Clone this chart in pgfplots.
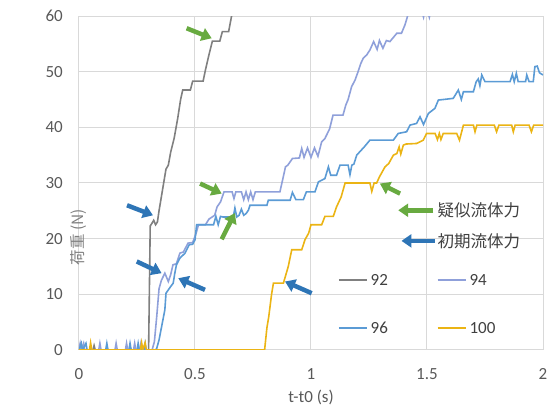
\documentclass[border=0pt]{standalone}
\usepackage{pgfplots}
\pgfplotsset{compat=1.18}
\usepackage{fontspec}
\setmainfont{Carlito}
\newfontfamily\jp{Noto Sans CJK JP}
\usetikzlibrary{arrows.meta}
\definecolor{c92}{RGB}{128,128,128}
\definecolor{c94}{RGB}{143,160,218}
\definecolor{c96}{RGB}{91,155,213}
\definecolor{c100}{RGB}{235,180,20}
\definecolor{cgreen}{RGB}{104,170,64}
\definecolor{cblue}{RGB}{46,117,182}
\definecolor{gridc}{RGB}{217,217,217}
\definecolor{tickc}{RGB}{89,89,89}
\definecolor{textc}{RGB}{64,64,64}
\begin{document}
\begin{tikzpicture}
\path[use as bounding box] (-79pt,-59pt) rectangle (476pt,350pt);
\begin{axis}[
  at={(0,0)}, anchor=south west,
  scale only axis, width=464pt, height=334pt,
  xmin=0, xmax=2, ymin=0, ymax=60,
  xtick={0,0.5,1,1.5,2}, ytick={0,10,20,30,40,50,60},
  grid=major, major grid style={draw=gridc, line width=1pt},
  axis line style={draw=gridc, line width=1pt},
  major tick length=0pt,
  /pgf/number format/assume math mode=true,
  ticklabel style={font=\fontsize{17}{19}\selectfont, text=tickc},
  xticklabel style={anchor=center, yshift=-24pt},
  yticklabel style={anchor=east, inner sep=0pt, xshift=-16pt},
  xlabel={t-t0 (s)},
  xlabel style={font=\fontsize{17}{19}\selectfont, text=tickc, at={(axis description cs:0.5,0)}, anchor=center, yshift=-47pt},
  ylabel={\jp 荷重 (N)},
  ylabel style={font=\fontsize{15.5}{18}\selectfont, text=gray, at={(axis description cs:0,0.5)}, anchor=center, xshift=-54pt},
  legend columns=2,
  legend cell align=left,
  legend image code/.code={\draw[#1] (0pt,0pt) -- (28pt,0pt);},
  legend style={draw=none, fill=none, inner sep=0pt,
    at={(axis cs:1.116,8.28)}, anchor=west,
    font=\fontsize{17}{19}\selectfont, text=textc,
    nodes={inner sep=1pt, text height=12pt, text depth=0pt},
    column sep=2pt, row sep=34pt,
    /tikz/every even column/.append style={column sep=48pt}},
]
\addplot[c92, line width=1.6pt] coordinates {
(0,0)(0.06,0)(0.065,0.8)(0.07,0)(0.30,0)(0.307,22.3)(0.315,22.8)(0.322,23.3)(0.33,22.5)(0.338,23)
(0.345,25)(0.355,27.5)(0.365,30)(0.375,32.5)(0.385,33.2)(0.395,35.5)(0.41,38)(0.425,41.5)
(0.438,45)(0.447,46.7)(0.48,46.7)(0.49,48.3)(0.535,48.3)(0.545,50.3)(0.56,53)(0.575,55.5)
(0.607,55.5)(0.618,57.2)(0.645,57.2)(0.66,60.5)(0.68,64)};
\addlegendentry{92}
\addplot[c94, line width=1.6pt] coordinates {
(0,0.3)(0.005,1.2)(0.01,0)(0.02,1.2)(0.025,0)(0.085,0)(0.09,1.2)(0.095,0)(0.155,0)(0.16,1.2)(0.165,0)
(0.2,0)(0.205,1.2)(0.21,0)(0.235,0)(0.24,1.2)(0.245,0)(0.262,0)(0.267,1.2)(0.272,0)(0.315,0)
(0.325,1.5)(0.335,6)(0.345,11)(0.355,12.5)(0.37,13.8)(0.385,12.3)(0.395,13.5)(0.405,15.3)(0.42,15.5)
(0.435,17.4)(0.45,17.6)(0.47,19.2)(0.49,19.3)(0.505,21)(0.515,22.5)(0.545,22.5)(0.56,23.5)(0.585,24.2)
(0.595,25.7)(0.61,26.6)(0.625,28.4)(0.66,28.4)(0.668,27.2)(0.676,28.4)(0.70,28.4)(0.71,27)(0.72,28.4)
(0.73,27)(0.74,28.4)(0.75,27)(0.76,28.4)(0.866,28.4)(0.88,31)(0.89,32.9)(0.90,33.2)(0.92,34.4)
(0.95,34.5)(0.96,36.2)(0.97,34.6)(0.985,36.3)(1.0,34.6)(1.015,36.3)(1.03,34.8)(1.046,37.4)(1.06,38)
(1.08,39.7)(1.095,42.2)(1.138,42.2)(1.15,44)(1.16,45)(1.175,47.3)(1.19,48.5)(1.203,50)(1.215,51.5)
(1.225,52.4)(1.24,53)(1.254,53.9)(1.27,55.4)(1.285,54)(1.295,55.6)(1.31,54.2)(1.325,55.6)(1.34,55.4)
(1.37,56.9)(1.39,56.9)(1.405,58.4)(1.42,60.5)(1.47,62)(1.485,59.8)(1.495,62)(1.51,59.8)(1.52,62)(1.6,64)};
\addlegendentry{94}
\addplot[c96, line width=1.6pt] coordinates {
(0,0)(0.01,1.2)(0.015,0)(0.03,1.2)(0.035,0)(0.115,0)(0.12,1.2)(0.125,0)(0.215,0)(0.22,1.2)(0.225,0)
(0.25,0)(0.255,1.2)(0.26,0)(0.28,0)(0.285,1.2)(0.29,0)(0.33,0)
(0.335,0.3)(0.345,1.8)(0.37,7.2)(0.375,10.2)(0.39,11.1)(0.406,12)(0.413,13.8)(0.42,15.3)(0.435,16.5)
(0.457,17.4)(0.475,18.9)(0.49,19)(0.50,19.8)(0.507,22.5)(0.58,22.5)(0.59,24)(0.60,22.5)(0.61,24)
(0.62,23.9)(0.665,23.9)(0.672,25.5)(0.68,23.9)(0.69,24.2)(0.70,25.3)(0.71,24.2)(0.72,24.5)(0.73,25.1)
(0.737,26)(0.81,26)(0.816,26.9)(0.91,26.9)(0.92,28.3)(0.935,27)(0.967,27)(0.98,28.4)(1.017,28.4)
(1.032,30.2)(1.06,30.8)(1.075,32.9)(1.085,31.4)(1.11,31.4)(1.125,33.2)(1.16,33.2)(1.168,31.5)
(1.176,33.2)(1.185,33.4)(1.197,35)(1.21,35.6)(1.23,36.5)(1.254,37.7)(1.355,37.7)(1.376,38.9)
(1.412,39.2)(1.427,40.4)(1.455,40.7)(1.47,41.9)(1.485,40.5)(1.506,42.5)(1.534,43.4)(1.549,44.9)
(1.613,45.2)(1.635,46.7)(1.648,45)(1.657,46.4)(1.70,46.4)(1.712,48.2)(1.721,48.7)(1.728,47.5)
(1.736,49.4)(1.75,48.2)(1.858,48.2)(1.868,49.5)(1.876,48.2)(1.885,49.7)(1.893,48.2)(1.925,48.2)
(1.93,49.4)(1.94,48.2)(1.958,48.2)(1.965,50.9)(1.975,51)(1.985,49.8)(2.0,49.4)};
\addlegendentry{96}
\addplot[c100, line width=1.6pt] coordinates {
(0,0)(0.045,0)(0.05,1.3)(0.055,0)(0.265,0)(0.27,1.3)(0.275,0)(0.285,1.3)(0.29,0)(0.80,0)
(0.81,4)(0.818,6)(0.83,10)(0.838,12)(0.881,12)(0.895,14)(0.902,15)(0.917,18)(0.96,18)(0.974,19.8)
(0.99,21)(1.0,22.5)(1.046,22.5)(1.06,24)(1.096,24)(1.11,25.7)(1.13,27.5)(1.147,30)(1.254,30)
(1.262,28.5)(1.272,30)(1.283,30)(1.295,31.1)(1.319,32.9)(1.335,33.5)(1.355,35)(1.37,35.3)(1.38,36.5)
(1.387,35.2)(1.398,36.8)(1.41,37)(1.455,37.1)(1.47,37.4)(1.484,37.7)(1.498,38.9)(1.535,38.9)
(1.545,37.8)(1.553,38.9)(1.56,37.8)(1.57,38.9)(1.628,38.9)(1.64,37.7)(1.657,40.4)(1.70,40.4)
(1.707,39.2)(1.715,40.4)(1.79,40.4)(1.80,39.2)(1.81,40.4)(1.865,40.4)(1.872,39.2)(1.88,40.4)
(1.94,40.4)(1.95,39.2)(1.96,40.4)(2.0,40.4)};
\addlegendentry{100}
% annotation arrows
\tikzset{annarrow/.style={line width=4.5pt, -{Triangle[length=10pt,width=13pt]}}}
\draw[annarrow, cgreen] (axis cs:0.464,57.8) -- (axis cs:0.572,56.0);
\draw[annarrow, cgreen] (axis cs:0.522,29.9) -- (axis cs:0.615,28.1);
\draw[annarrow, cgreen] (axis cs:0.615,19.9) -- (axis cs:0.672,24.6);
\draw[annarrow, cgreen] (axis cs:1.384,28.1) -- (axis cs:1.297,29.9);
\draw[annarrow, cgreen] (axis cs:1.528,25.1) -- (axis cs:1.376,25.1);
\draw[annarrow, cblue] (axis cs:0.207,26.0) -- (axis cs:0.319,24.2);
\draw[annarrow, cblue] (axis cs:0.249,15.9) -- (axis cs:0.356,13.8);
\draw[annarrow, cblue] (axis cs:0.543,10.8) -- (axis cs:0.428,12.9);
\draw[annarrow, cblue] (axis cs:1.003,10.2) -- (axis cs:0.888,12.3);
\draw[annarrow, cblue] (axis cs:1.534,19.6) -- (axis cs:1.39,19.6);
\node[anchor=west, inner sep=0pt, font=\jp\fontsize{16.5}{18}\selectfont, text=textc] at (axis cs:1.545,25.1) {疑似流体力};
\node[anchor=west, inner sep=0pt, font=\jp\fontsize{16.5}{18}\selectfont, text=textc] at (axis cs:1.545,19.6) {初期流体力};
\end{axis}
\end{tikzpicture}
\end{document}
